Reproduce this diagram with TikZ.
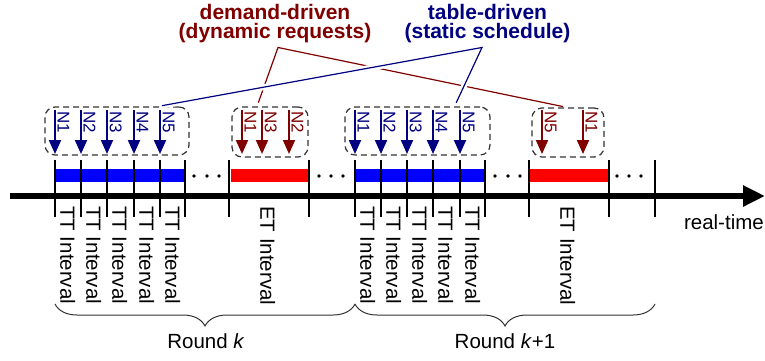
\documentclass[tikz,border=0pt]{standalone}
\usepackage{fontspec}
\setmainfont{Liberation Sans}
\usetikzlibrary{arrows.meta,decorations.pathreplacing}
\definecolor{dred}{HTML}{800000}
\definecolor{dblue}{HTML}{000080}
\newcommand*{\boldlabel}{\fontsize{21}{19.5}\selectfont\bfseries}
\newcommand*{\plainlabel}{\fontsize{20.5}{21}\selectfont}
\newcommand{\reqarrow}[3]{%
% x position, colour, request label
  \draw[reqline, #2] (#1,110) -- (#1,154);
  \node[reqlabel, text=#2] (req#1) at (#1+2.5,111) {#3};
}
\tikzset{
  reqline/.style={line width=2pt, -{Triangle[width=12pt,length=14pt]}},
  reqlabel/.style={rotate=-90, anchor=south west, inner sep=0pt, font=\fontsize{17}{17}\selectfont},
  ivlabel/.style={rotate=-90, anchor=south west, inner sep=0pt, font=\plainlabel},
  grpbox/.style={draw=black!80, dash pattern=on 6pt off 4pt, line width=1.2pt, rounded corners=10pt, inner sep=0pt},
  tickline/.style={line width=2pt},
  slotbar/.style={line width=13pt},
  axisline/.style={line width=6pt, -{Triangle[width=20pt,length=22pt]}},
  link/.style={line width=1.2pt, shorten <=4pt, shorten >=4pt},
  halo/.style={preaction={draw=white, line width=6pt}},
  roundbrace/.style={decorate, decoration={brace, mirror, amplitude=22pt}, line width=1pt, black!80},
}

\begin{document}
\begin{tikzpicture}[x=1pt, y=-1pt]
  \useasboundingbox (0,0) rectangle (765,360);

  % slots on the time line
  \draw[slotbar, blue] (55,175.5) -- (185,175.5);
  \draw[slotbar, red] (231,175.5) -- (308,175.5);
  \draw[slotbar, blue] (355,175.5) -- (485,175.5);
  \draw[slotbar, red] (530,175.5) -- (608,175.5);
  \foreach \x in {194,207,219,319,331,343,495,508,520,617,629,641}
    \fill (\x,176) circle[radius=1.8pt];

  \draw[axisline] (10,196) -- (765,196);
  \foreach \x in {55,81,107,134,160,185,229,309,355,381,407,433,460,485,529,609,655}
    \draw[tickline] (\x,160) -- (\x,217);
  \node[anchor=base east, inner sep=0pt, font=\plainlabel] (rt) at (764,229) {real-time};

  % interval names
  \foreach \x in {55,81,107,134,160,355,381,407,433,460}
    \node[ivlabel] (tt\x) at (\x+5,206) {TT Interval};
  \node[ivlabel] (et1) at (260,206) {ET Interval};
  \node[ivlabel] (et2) at (560,206) {ET Interval};

  % rounds
  \draw[roundbrace] (55,304) -- (355,304);
  \draw[roundbrace] (355,304) -- (655,304);
  \node[anchor=base, inner sep=0pt, font=\plainlabel] (rk1) at (206,348) {Round \textit{k}};
  \node[anchor=base, inner sep=0pt, font=\plainlabel] (rk2) at (505,348) {Round \textit{k}+1};

  % requests
  \node[grpbox, minimum width=144pt, minimum height=48pt] (g1) at (117,131) {};
  \node[grpbox, minimum width=76pt, minimum height=50pt] (g2) at (270,132) {};
  \node[grpbox, minimum width=145pt, minimum height=48pt] (g3) at (417.5,131) {};
  \node[grpbox, minimum width=72pt, minimum height=49pt] (g4) at (568,132.5) {};
  \foreach \x/\n in {55/1,81/2,107/3,134/4,160/5,355/1,381/2,407/3,433/4,460/5}
    {\reqarrow{\x}{dblue}{N\n}}
  \foreach \x/\n in {242/1,262/3,289/2,542/5,583/1}
    {\reqarrow{\x}{dred}{N\n}}

  % sources
  \node[font=\boldlabel, text=dred, align=center, anchor=north, inner sep=0pt] (demand) at (275,4) {demand-driven\\(dynamic requests)};
  \node[font=\boldlabel, text=dblue, align=center, anchor=north, inner sep=0pt] (table) at (487.5,4) {table-driven\\(static schedule)};
  \coordinate (dsplit) at ([xshift=3pt,yshift=-4pt]demand.south);
  \coordinate (tsplit) at ([xshift=-5.5pt,yshift=-4pt]table.south);
  \draw[link, dred] ([xshift=-13pt]g2.north) -- (dsplit) -- ([xshift=-1pt]g4.north);
  \draw[link, dblue, halo] ([xshift=41pt]g1.north) -- (tsplit) -- ([xshift=37pt]g3.north);
\end{tikzpicture}
\end{document}
